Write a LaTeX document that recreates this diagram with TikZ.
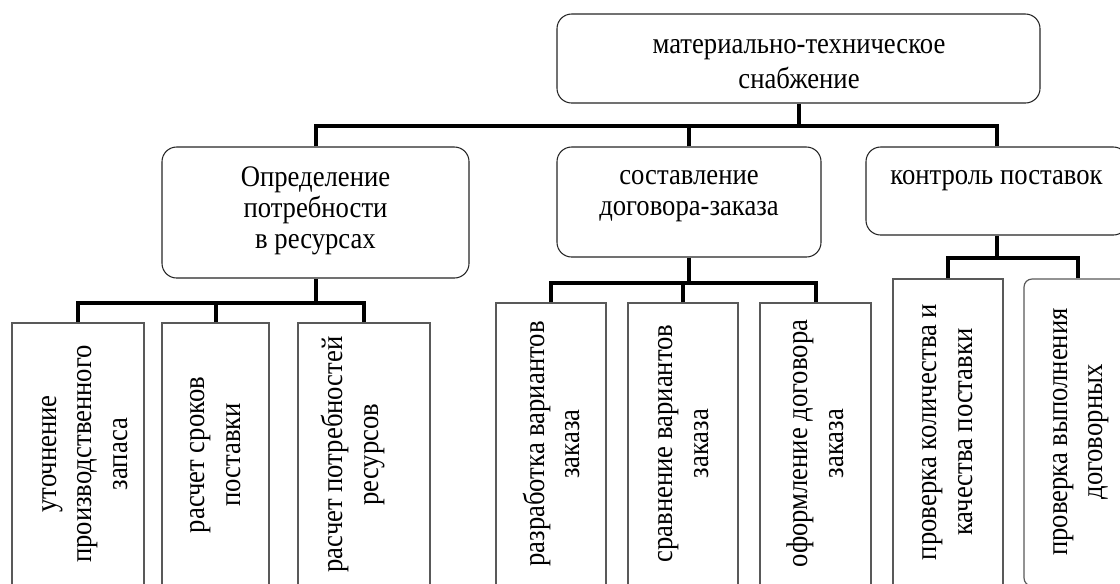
\documentclass[tikz,border=0pt]{standalone}
\usepackage{fontspec}
\setmainfont{Liberation Serif}
\begin{document}
\begin{tikzpicture}[x=0.75pt,y=-0.75pt,
  rbox/.style={draw=black!85, line width=0.8pt, rounded corners=11pt, fill=white, inner sep=0pt},
  sbox/.style={draw=black!65, line width=0.9pt, fill=white, inner sep=0pt},
  conn/.style={line width=3pt, black, line join=miter},
  htxt/.style={font=\fontsize{20}{23.4}\selectfont, align=center, inner sep=0pt, yscale=1.12, transform shape},
  vtxt/.style={font=\fontsize{20}{23.8}\selectfont, align=center, rotate=90, yscale=1.12, transform shape, inner sep=0pt}]
\useasboundingbox (0,0) rectangle (1120,583);
\clip (0,0) rectangle (1120,583);
% boxes
\node[rbox, minimum width=483*0.75pt, minimum height=89*0.75pt] (top) at (798.5,58.5) {};
\node[rbox, minimum width=307*0.75pt, minimum height=131*0.75pt] (L) at (315.5,212.5) {};
\node[rbox, minimum width=264*0.75pt, minimum height=110*0.75pt] (M) at (689,202) {};
\node[rbox, minimum width=262*0.75pt, minimum height=88*0.75pt] (R) at (997,191) {};
\node[sbox, minimum width=132*0.75pt, minimum height=263*0.75pt] (b1) at (78,454.5) {};
\node[sbox, minimum width=107*0.75pt, minimum height=263*0.75pt] (b2) at (215.5,454.5) {};
\node[sbox, minimum width=132*0.75pt, minimum height=263*0.75pt] (b3) at (364,454.5) {};
\node[sbox, minimum width=110*0.75pt, minimum height=283*0.75pt] (b4) at (551,444.5) {};
\node[sbox, minimum width=110*0.75pt, minimum height=283*0.75pt] (b5) at (683,444.5) {};
\node[sbox, minimum width=111*0.75pt, minimum height=283*0.75pt] (b6) at (815.5,444.5) {};
\node[sbox, minimum width=110*0.75pt, minimum height=307*0.75pt] (b7) at (948,432.5) {};
\node[sbox, rounded corners=6pt, minimum width=108*0.75pt, minimum height=307*0.75pt] (b8) at (1078,432.5) {};
% texts
\node[htxt] (ttop) at (799,64) {материально-техническое\\снабжение};
\node[htxt, font=\fontsize{20}{20.8}\selectfont] (tL) at (315.5,211) {Определение\\потребности\\в ресурсах};
\node[htxt, font=\fontsize{20}{20.8}\selectfont] (tM) at (689,196) {составление\\договора-заказа};
\node[htxt] (tR) at (996.5,181) {контроль поставок};
\node[vtxt] (t1) at (85,454) {уточнение\\производственного\\запаса};
\node[vtxt] (t2) at (215.5,455) {расчет сроков\\поставки};
\node[vtxt] (t3) at (353,454.5) {расчет потребностей\\ресурсов};
\node[vtxt] (t4) at (551.5,444) {разработка вариантов\\заказа};
\node[vtxt] (t5) at (683.5,443.5) {сравнение вариантов\\заказа};
\node[vtxt] (t6) at (815.5,443.5) {оформление договора\\заказа};
\node[vtxt] (t7) at (947.5,432) {проверка количества и\\качества поставки};
\node[vtxt] (t8) at (1081,432) {проверка выполнения\\договорных};
% connectors
\draw[conn] (top.south) -- ++(0,22) coordinate (bus1);
\draw[conn] (L.north) |- (bus1);
\draw[conn] (R.north) |- (bus1);
\draw[conn] (M.north) -- (M.north |- bus1);
\draw[conn] (L.south) -- ++(0,24) coordinate (bus2);
\draw[conn] (b1.north) |- (bus2);
\draw[conn] (b3.north) |- (bus2);
\draw[conn] (b2.north) -- (b2.north |- bus2);
\draw[conn] (M.south) -- ++(0,25) coordinate (bus3);
\draw[conn] (b4.north) |- (bus3);
\draw[conn] (b6.north) |- (bus3);
\draw[conn] (b5.north) -- (b5.north |- bus3);
\draw[conn] (R.south) -- ++(0,22) coordinate (bus4);
\draw[conn] (b7.north) |- (bus4);
\draw[conn] (b8.north) |- (bus4);
\end{tikzpicture}
\end{document}
